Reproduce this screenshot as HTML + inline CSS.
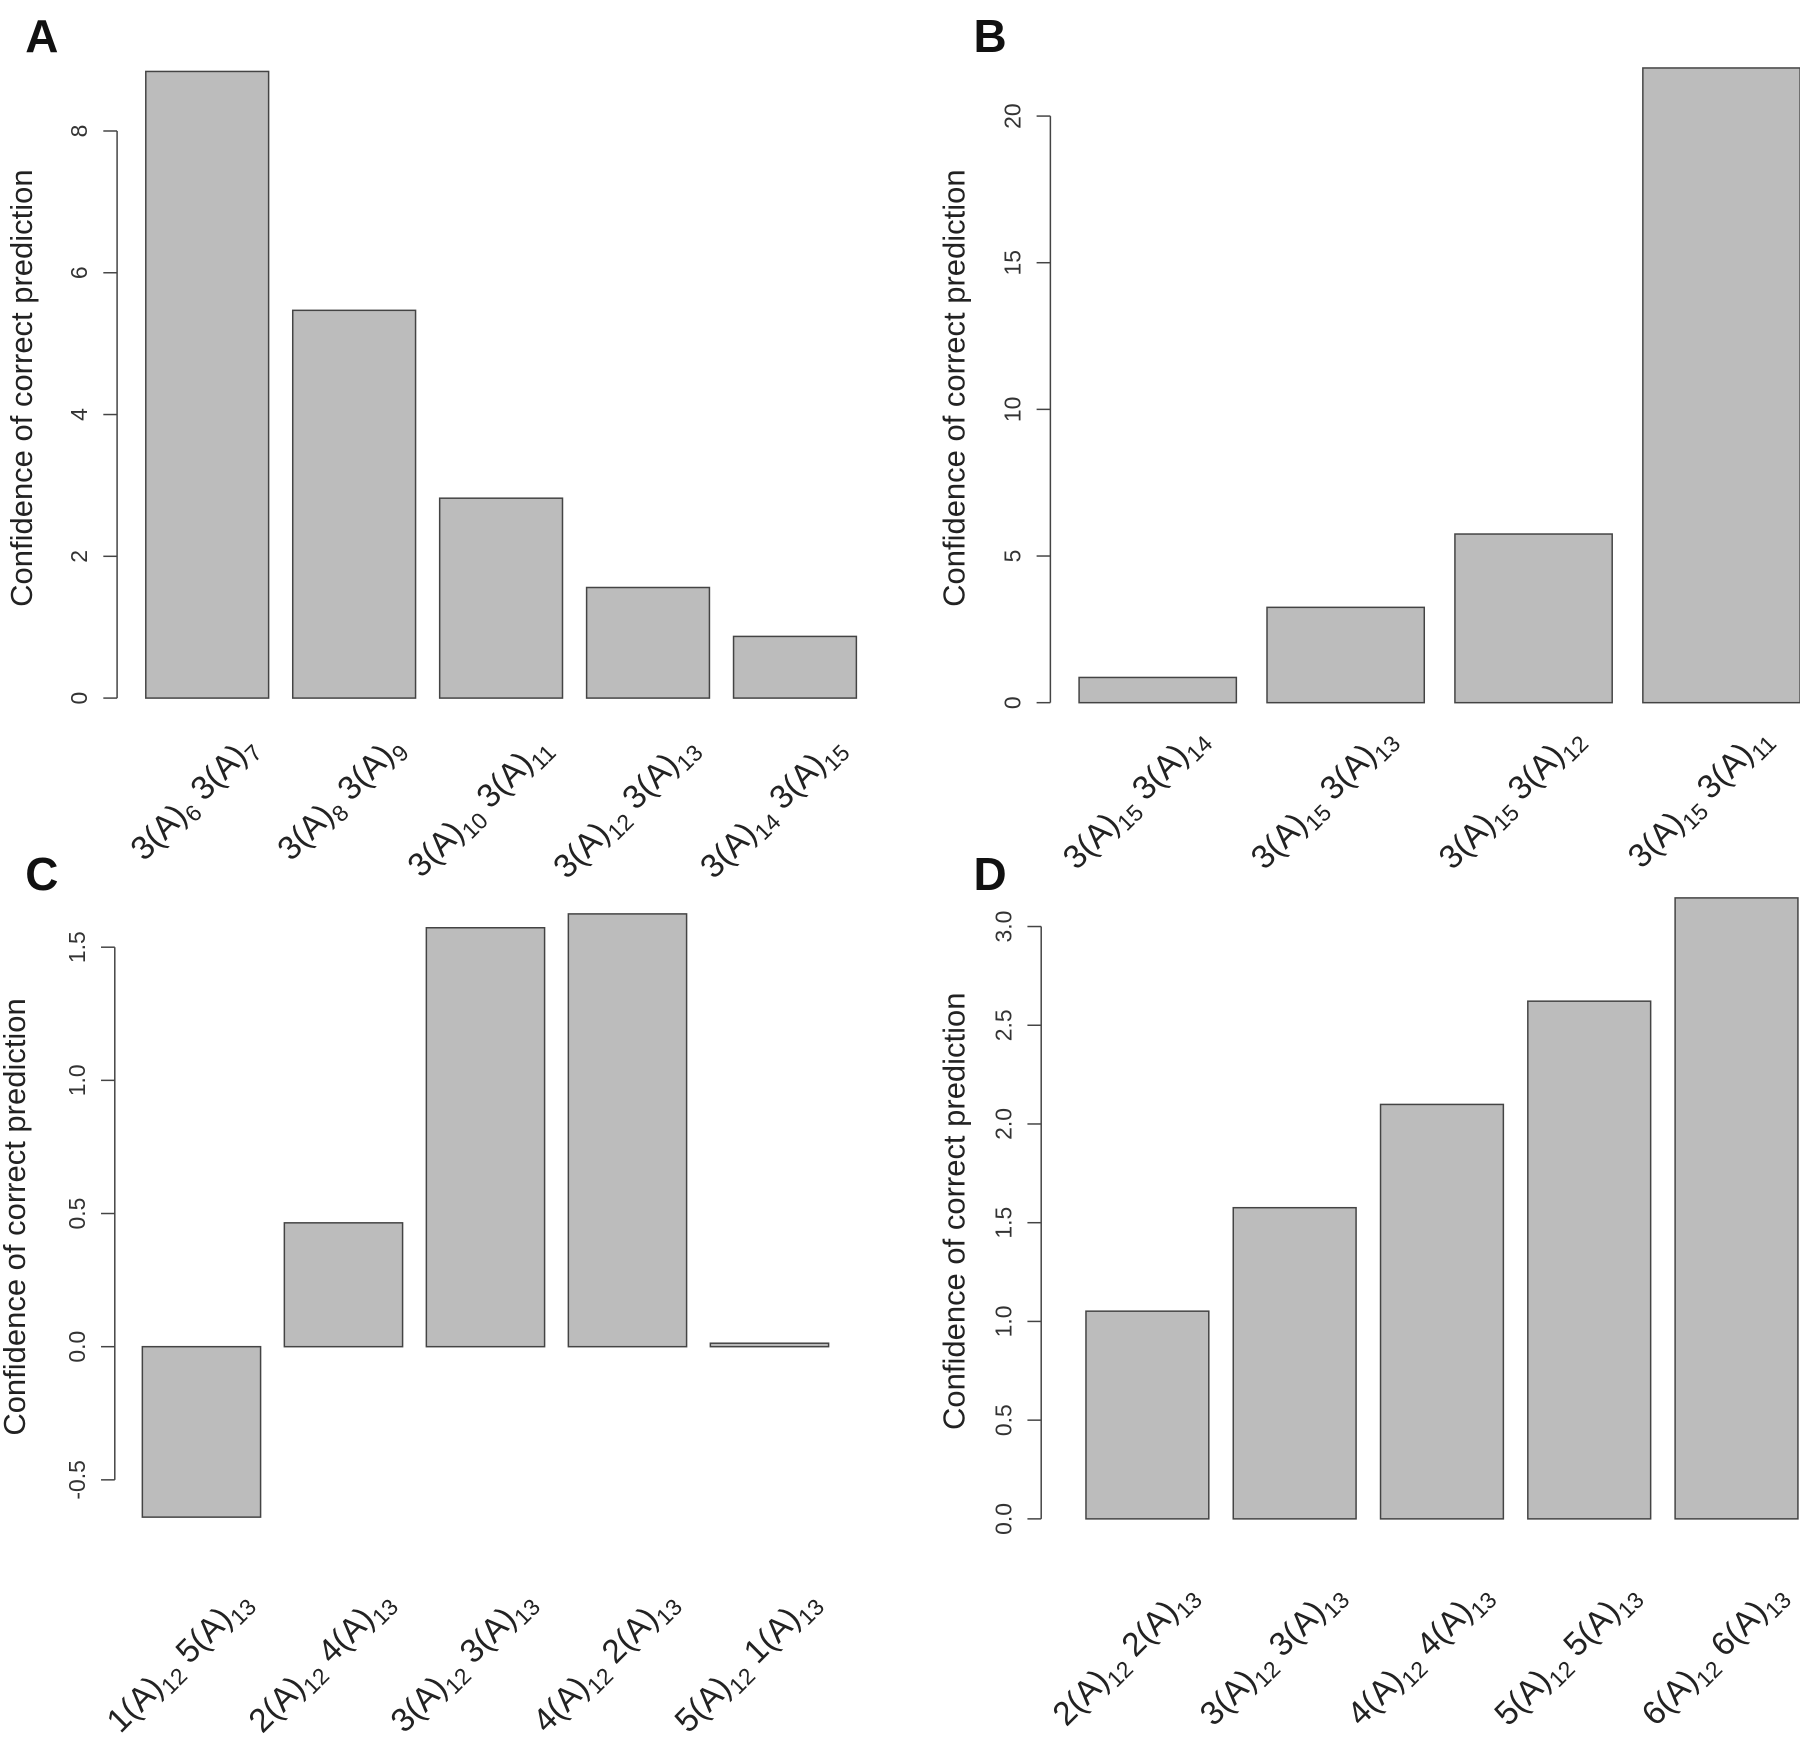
<!DOCTYPE html>
<html><head><meta charset="utf-8"><style>
html,body{margin:0;padding:0;background:#fff}
svg{display:block;font-family:"Liberation Sans",Arial,sans-serif}
</style></head><body>
<svg id="fig" width="1800" height="1744" viewBox="0 0 1568 1519" xmlns="http://www.w3.org/2000/svg"></svg>
<script>
const catsA=[["3(A)","6"," 3(A)","7"],["3(A)","8"," 3(A)","9"],["3(A)","10"," 3(A)","11"],["3(A)","12"," 3(A)","13"],["3(A)","14"," 3(A)","15"]];
const valsA=[8.84,5.47,2.82,1.56,0.87];
const ticksA=[0,2,4,6,8];
const catsB=[["3(A)","15"," 3(A)","14"],["3(A)","15"," 3(A)","13"],["3(A)","15"," 3(A)","12"],["3(A)","15"," 3(A)","11"]];
const valsB=[0.86,3.25,5.75,21.64];
const ticksB=[0,5,10,15,20];
const catsC=[["1(A)","12"," 5(A)","13"],["2(A)","12"," 4(A)","13"],["3(A)","12"," 3(A)","13"],["4(A)","12"," 2(A)","13"],["5(A)","12"," 1(A)","13"]];
const valsC=[-0.64,0.465,1.573,1.625,0.013];
const ticksC=[-0.5,0.0,0.5,1.0,1.5];
const tickLabC=["-0.5","0.0","0.5","1.0","1.5"];
const catsD=[["2(A)","12"," 2(A)","13"],["3(A)","12"," 3(A)","13"],["4(A)","12"," 4(A)","13"],["5(A)","12"," 5(A)","13"],["6(A)","12"," 6(A)","13"]];
const valsD=[1.052,1.576,2.099,2.622,3.145];
const ticksD=[0,0.5,1.0,1.5,2.0,2.5,3.0];
const tickLabD=["0.0","0.5","1.0","1.5","2.0","2.5","3.0"];

const NS="http://www.w3.org/2000/svg";
const svg=document.getElementById('fig');
function mk(tag,attrs,parent){const e=document.createElementNS(NS,tag);for(const k in attrs)e.setAttribute(k,attrs[k]);(parent||svg).appendChild(e);return e;}

function panel(p){
  const g=mk('g',{});
  
  
  const y=v=>p.y0-(v-p.v0)*p.scale;
  const lt=mk('text',{x:p.lx,y:p.ly,'font-size':40,'font-weight':'bold',fill:'#111'},g);
  lt.textContent=p.id;
  
  
  const ax=mk('g',{},g);
  
  
  const tv=p.ticks;
  mk('line',{x1:p.ax,x2:p.ax,y1:y(tv[0]),y2:y(tv[tv.length-1]),stroke:'#444','stroke-width':1.3},ax);
  tv.forEach((t,i)=>{
    mk('line',{x1:p.ax-12,x2:p.ax,y1:y(t),y2:y(t),stroke:'#444','stroke-width':1.3},ax);
    const tx=mk('text',{x:p.ax-26,y:y(t),'font-size':20,fill:'#333','text-anchor':'middle',transform:`rotate(-90 ${p.ax-26} ${y(t)})`},ax);
    tx.textContent=p.tlab?p.tlab[i]:String(t);
    
    
  });
  const tt=mk('text',{x:p.tx,y:p.ty,'font-size':27,fill:'#222','text-anchor':'middle',transform:`rotate(-90 ${p.tx} ${p.ty})`},g);
  tt.textContent='Confidence of correct prediction';
  
  
  p.vals.forEach((v,i)=>{
    const x=p.bx0+i*p.step;
    const a=y(Math.max(v,0)),b=y(Math.min(v,0));
    const r=mk('rect',{x:x,y:a,width:p.bw,height:Math.max(b-a,1),fill:'#bcbcbc',stroke:'#444','stroke-width':1.3},g);
    
    
    const cx=x+p.bw/2+p.ldx, cy=p.laby;
    const t=mk('text',{x:cx,y:cy,'font-size':29,fill:'#222','text-anchor':'end',transform:`rotate(-45 ${cx} ${cy})`},g);
    
    
    const c=p.cats[i];
    [[c[0],0],[c[1],1],[c[2],0],[c[3],1]].forEach(([s,sub])=>{
      const ts=mk('tspan',sub?{'font-size':20,dy:7}:{dy:0},t);
      if(!sub && s!==c[0]) ts.setAttribute('dy',-7);
      ts.textContent=s;
    });
  });
}
panel({id:'A',lx:22,ly:45,ax:102,y0:608,v0:0,scale:61.75,ticks:ticksA,tx:28,ty:338,vals:valsA,cats:catsA,bx0:127,step:128,bw:107,ldx:44,laby:652});
panel({id:'B',lx:848,ly:45,ax:915,y0:612,v0:0,scale:25.55,ticks:ticksB,tx:840,ty:338,vals:valsB,cats:catsB,bx0:940,step:163.7,bw:137,ldx:44,laby:644});
panel({id:'C',lx:22,ly:775,ax:100,y0:1173,v0:0,scale:232,ticks:ticksC,tlab:tickLabC,tx:22,ty:1060,vals:valsC,cats:catsC,bx0:124,step:123.7,bw:103,ldx:44,laby:1396});
panel({id:'D',lx:848,ly:775,ax:907,y0:1323,v0:0,scale:172,ticks:ticksD,tlab:tickLabD,tx:840,ty:1055,vals:valsD,cats:catsD,bx0:946,step:128.3,bw:107,ldx:44,laby:1390});
</script>
</body></html>
